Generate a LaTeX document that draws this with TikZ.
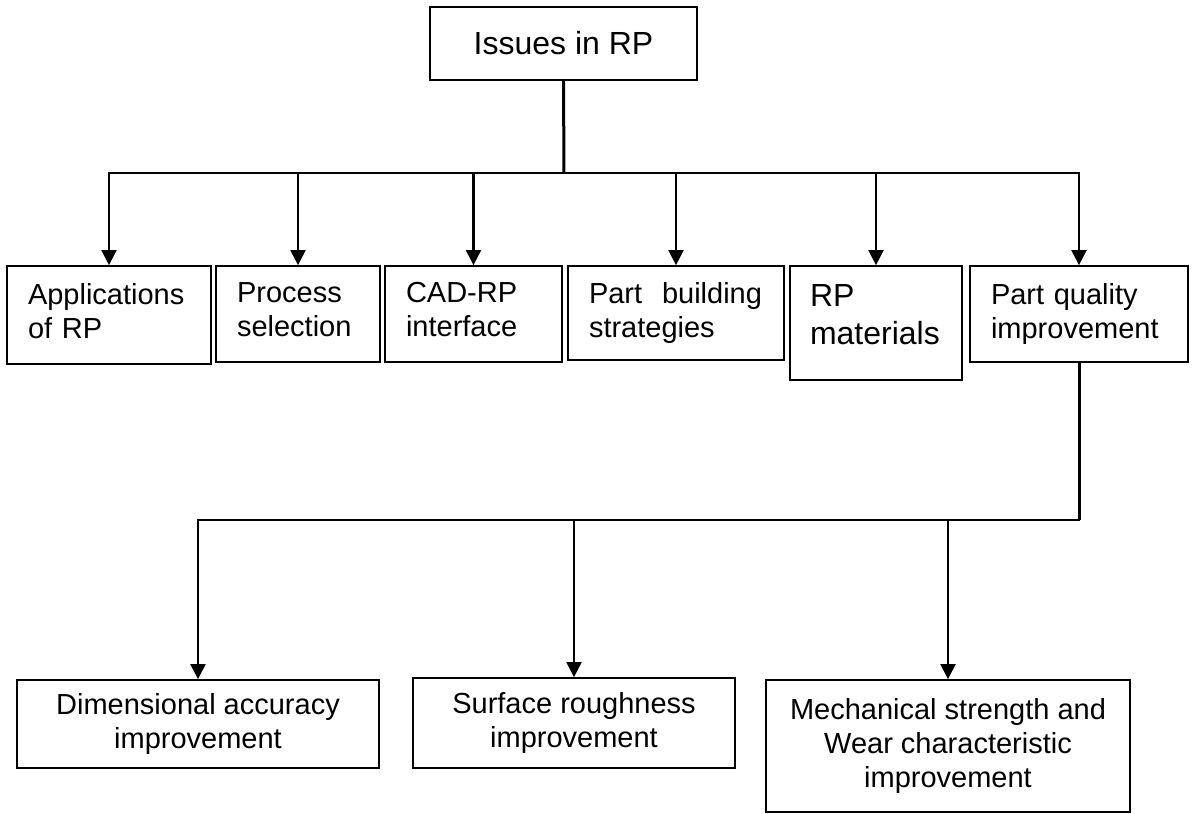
\documentclass[tikz,border=0pt]{standalone}
\usepackage{fontspec}
\setmainfont{Liberation Sans}
\usetikzlibrary{arrows.meta}
\newcommand{\xdp}[1]{\rule[-#1]{0pt}{#1}}
\begin{document}
\begin{tikzpicture}[x=1pt,y=-1pt,
  box/.style={draw, line width=1.8pt, inner ysep=0pt, font=\fontsize{29}{34}\selectfont},
  lbox/.style={box, inner xsep=21pt, align=left},
  cbox/.style={box, inner xsep=0pt, align=center},
  link/.style={line width=2.3pt},
  arr/.style={link, -{Triangle[length=15pt,width=15pt]}}]
\useasboundingbox (0,0) rectangle (1195,814);
% top
\node[cbox, minimum width=267pt, minimum height=73pt, font=\fontsize{32}{38}\selectfont] (top) at (563.5,43.5) {Issues in RP};
% second row
\node[lbox, text width=162pt, minimum height=98pt] (b1) at (109,315) {Applications\\of RP\xdp{9pt}};
\node[lbox, text width=122pt, minimum height=96pt] (b2) at (298,314) {Process\\selection\xdp{8pt}};
\node[lbox, text width=135pt, minimum height=96pt] (b3) at (473.5,314) {CAD-RP\\interface\xdp{9pt}};
\node[lbox, text width=174pt, minimum height=94pt] (b4) at (676,313) {\makebox[173pt][l]{Part\hfill building}\\strategies};
\node[lbox, inner xsep=20pt, text width=132pt, minimum height=114pt, font=\fontsize{32}{38}\selectfont] (b5) at (876,323) {RP\\materials\xdp{17pt}};
\node[lbox, text width=176pt, minimum height=96pt] (b6) at (1079,314) {Part quality\\improvement\xdp{3pt}};
% bottom row
\node[cbox, minimum width=362pt, minimum height=88pt] (c1) at (198,724) {Dimensional accuracy\\improvement};
\node[cbox, minimum width=322pt, minimum height=90pt] (c2) at (574,723) {Surface roughness\\improvement};
\node[cbox, minimum width=364pt, minimum height=132pt] (c3) at (948,746) {Mechanical strength and\\Wear characteristic\\improvement};
% connectors, upper tree
\coordinate (j1) at (564,173);
\draw[link, line width=3pt] (top.south) -- (j1);
\draw[link, line cap=rect] (j1 -| b1.north) -- (j1 -| b6.north);
\foreach \n in {b1,b2,b3,b4,b5,b6}
  \draw[arr] (j1 -| \n.north) -- (\n.north);
% connectors, lower tree
\coordinate (j2) at (1079,520);
\draw[link, line width=3pt] (b6.south) -- (j2);
\draw[link, line width=2.8pt, line cap=rect] (j2) -- (j2 -| c1.north);
\foreach \n in {c1,c2,c3}
  \draw[arr] (j2 -| \n.north) -- (\n.north);
\end{tikzpicture}
\end{document}
